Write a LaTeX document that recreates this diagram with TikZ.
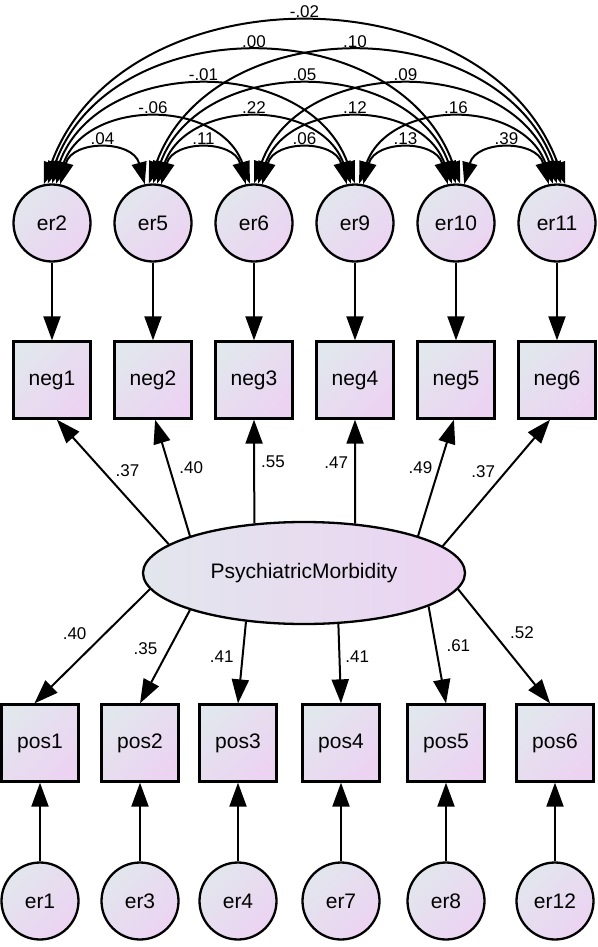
\documentclass[tikz,border=0pt]{standalone}
\usepackage{fontspec}
\setmainfont{Liberation Sans}
\usetikzlibrary{arrows.meta,positioning,shapes.geometric}

\definecolor{shadeL}{RGB}{226,230,237}
\definecolor{shadeR}{RGB}{236,211,242}

\tikzset{
	grad/.style={left color=shadeL, right color=shadeR, shading angle=45},
	errv/.style={circle, draw, line width=2.3pt, minimum size=77pt, inner sep=0pt, grad, font=\fontsize{21}{25}\selectfont},
	obsv/.style={rectangle, draw, line width=2.3pt, minimum width=77pt, minimum height=77pt, inner sep=0pt, grad, font=\fontsize{21}{25}\selectfont},
	latv/.style={ellipse, draw, line width=2.3pt, minimum width=322pt, minimum height=102pt, inner sep=0pt, left color=shadeL, right color=shadeR, font=\fontsize{21}{25}\selectfont},
	wt/.style={font=\fontsize{17}{20}\selectfont, inner sep=0pt},
	cw/.style={font=\fontsize{17}{20}\selectfont, inner sep=5pt},
	cov/.style={<->, >={Triangle[length=22pt,width=15pt]}},
}

\begin{document}
\begin{tikzpicture}[x=1pt, y=-1pt, on grid, auto, line width=2pt, >={Triangle[length=24pt,width=17pt]}]
		\useasboundingbox (0,0) rectangle (597,947);
		
		% --- Errors (top) ---
		\node[errv] (er2) at (52,223) {er2};
		\node[errv] (er5)  [right=101pt of er2] {er5};
		\node[errv] (er6)  [right=101pt of er5] {er6};
		\node[errv] (er9)  [right=101pt of er6] {er9};
		\node[errv] (er10) [right=101pt of er9] {er10};
		\node[errv] (er11) [right=101pt of er10] {er11};
		
		% --- Negative items ---
		\node[obsv] (neg1) [below=157pt of er2] {neg1};
		\node[obsv] (neg2) [below=157pt of er5] {neg2};
		\node[obsv] (neg3) [below=157pt of er6] {neg3};
		\node[obsv] (neg4) [below=157pt of er9] {neg4};
		\node[obsv] (neg5) [below=157pt of er10] {neg5};
		\node[obsv] (neg6) [below=157pt of er11] {neg6};
		
		% --- Latent ---
		\node[latv] (pm) at (304,573) {PsychiatricMorbidity};
		
		% --- Positive items ---
		\node[obsv] (pos1) at (40,743) {pos1};
		\node[obsv] (pos2) [right=100pt of pos1] {pos2};
		\node[obsv] (pos3) [right=98pt of pos2] {pos3};
		\node[obsv] (pos4) [right=103pt of pos3] {pos4};
		\node[obsv] (pos5) [right=105pt of pos4] {pos5};
		\node[obsv] (pos6) [right=109pt of pos5] {pos6};
		
		% --- Errors (bottom) ---
		\node[errv] (er1)  [below=158pt of pos1] {er1};
		\node[errv] (er3)  [below=158pt of pos2] {er3};
		\node[errv] (er4)  [below=158pt of pos3] {er4};
		\node[errv] (er7)  [below=158pt of pos4] {er7};
		\node[errv] (er8)  [below=158pt of pos5] {er8};
		\node[errv] (er12) [below=158pt of pos6] {er12};
		
		% --- Loadings ---
		\path[->]
		(er2) edge (neg1)
		(er5) edge (neg2)
		(er6) edge (neg3)
		(er9) edge (neg4)
		(er10) edge (neg5)
		(er11) edge (neg6)
		
		(pm.168) edge node[wt, pos=.59, right=12pt] {.37} (neg1.277)
		(pm.162) edge node[wt, pos=.59, right=9pt] {.40} (neg2.273)
		(pm.135) edge node[wt, pos=.59, right=6pt] {.55} (neg3.south)
		(pm.44) edge node[wt, pos=.59, left=6pt] {.47} (neg4.south)
		(pm.18) edge node[wt, pos=.59, left=6pt] {.49} (neg5.267)
		(pm.11) edge node[wt, pos=.59, left=10pt] {.37} (neg6.260)
		
		(pm.186) edge node[wt, pos=.385, left=18pt] {.40} (pos1.98)
		(pm.198) edge node[wt, pos=.415, left=11pt] {.35} (pos2.north)
		(pm.220) edge node[wt, pos=.43, left=8pt] {.41} (pos3.north)
		(pm.304) edge node[wt, pos=.41, right=5pt] {.41} (pos4.north)
		(pm.345) edge node[wt, pos=.4, right=10pt] {.61} (pos5.north)
		(pm.354) edge node[wt, pos=.38, right=16pt] {.52} (pos6.97)
		
		(er1) edge (pos1)
		(er3) edge (pos2)
		(er4) edge (pos3)
		(er7) edge (pos4)
		(er8) edge (pos5)
		(er12) edge (pos6);
		
		% --- Covariances ---
		\path[cov]
		(er2.78) edge[bend left=75, looseness=1.4] node[cw] {.04} (er5.102)
		(er5.78) edge[bend left=75, looseness=1.4] node[cw] {.11} (er6.102)
		(er6.78) edge[bend left=75, looseness=1.4] node[cw] {.06} (er9.102)
		(er9.78) edge[bend left=75, looseness=1.4] node[cw] {.13} (er10.102)
		(er10.78) edge[bend left=75, looseness=1.4] node[cw] {.39} (er11.102)
		
		(er2.84) edge[bend left=70, looseness=1.2] node[cw] {-.06} (er6.96)
		(er5.84) edge[bend left=70, looseness=1.2] node[cw] {.22} (er9.96)
		(er6.84) edge[bend left=70, looseness=1.2] node[cw] {.12} (er10.96)
		(er9.84) edge[bend left=70, looseness=1.2] node[cw] {.16} (er11.96)
		
		(er2.90) edge[bend left=70, looseness=1.16] node[cw] {-.01} (er9.90)
		(er5.90) edge[bend left=70, looseness=1.16] node[cw] {.05} (er10.90)
		(er6.90) edge[bend left=70, looseness=1.16] node[cw] {.09} (er11.90)
		
		(er2.96) edge[bend left=70, looseness=1.15] node[cw] {.00} (er10.84)
		(er5.96) edge[bend left=70, looseness=1.15] node[cw] {.10} (er11.84)
		
		(er2.102) edge[bend left=70, looseness=1.12] node[cw] {-.02} (er11.78);
	\end{tikzpicture}
\end{document}
